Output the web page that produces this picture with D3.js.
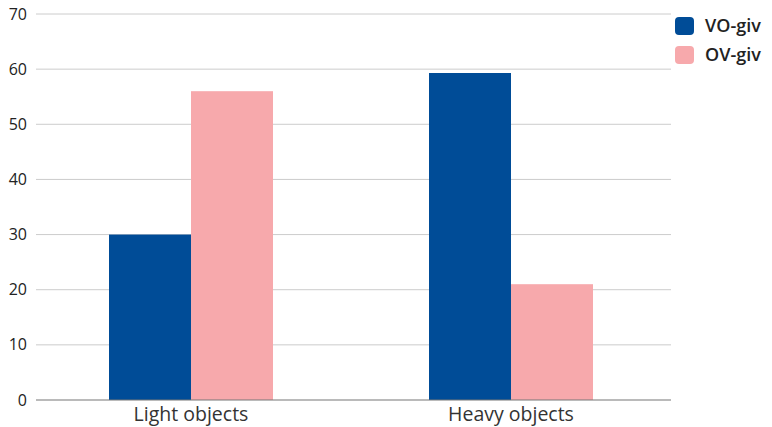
<!DOCTYPE html>
<html>
<head>
<meta charset="utf-8">
<script src="https://cdn.jsdelivr.net/npm/d3@7/dist/d3.min.js"></script>
<style>
  html, body { margin: 0; padding: 0; background: #fff; }
  svg { display: block; }
  text { font-family: "Open Sans", "Noto Sans", sans-serif; }
</style>
</head>
<body>
<svg id="chart" width="772" height="427"></svg>
<script>
// Grouped bar chart: share of responses per object type
const categories = ["Light objects", "Heavy objects"];
const seriesNames = ["VO-giv", "OV-giv"];
const voValues = [30, 59.3];
const ovValues = [56, 21];
const yTicks = [0, 10, 20, 30, 40, 50, 60, 70];
const colors = ["#004c97", "#f7a9ac"];

const svg = d3.select("#chart");
const gridLeft = 36, plotRight = 671, plotTop = 14, plotBottom = 400;

const x = d3.scaleBand().domain(categories).range([31, plotRight]).paddingInner(0.4875).paddingOuter(0.24375);
const xs = d3.scaleBand().domain(seriesNames).range([0, x.bandwidth()]);
const y = d3.scaleLinear().domain([0, 70]).range([plotBottom, plotTop]);

// horizontal gridlines
svg.append("g").selectAll("line").data(yTicks.filter(d => d > 0)).join("line")
  .attr("x1", gridLeft).attr("x2", plotRight)
  .attr("y1", d => y(d)).attr("y2", d => y(d))
  .attr("stroke", "#cccccc").attr("stroke-width", 1);

// y tick labels
svg.append("g").selectAll("text").data(yTicks).join("text")
  .attr("x", 27).attr("y", d => y(d)).attr("dy", "0.35em")
  .attr("text-anchor", "end").attr("font-size", 16).attr("fill", "#222")
  .text(d => d);

// bars
const rows = categories.map((c, i) => ({ cat: c, vals: [voValues[i], ovValues[i]] }));
const groups = svg.append("g").selectAll("g").data(rows).join("g")
  .attr("transform", d => `translate(${x(d.cat)},0)`);
groups.selectAll("rect").data(d => d.vals.map((v, j) => ({ name: seriesNames[j], v, j }))).join("rect")
  .attr("x", d => xs(d.name)).attr("width", xs.bandwidth())
  .attr("y", d => y(d.v)).attr("height", d => y(0) - y(d.v))
  .attr("fill", d => colors[d.j]);

// baseline
svg.append("line").attr("x1", gridLeft).attr("x2", plotRight)
  .attr("y1", plotBottom).attr("y2", plotBottom).attr("stroke", "#777").attr("stroke-width", 1.2);

// category labels
svg.append("g").selectAll("text").data(categories).join("text")
  .attr("x", d => x(d) + x.bandwidth() / 2).attr("y", 421)
  .attr("text-anchor", "middle").attr("font-size", 19.5).attr("fill", "#333")
  .text(d => d);

// legend
const legend = svg.append("g").selectAll("g").data(seriesNames).join("g")
  .attr("transform", (d, i) => `translate(675,${17 + i * 29})`);
legend.append("rect").attr("width", 19).attr("height", 18).attr("rx", 4)
  .attr("fill", (d, i) => colors[i]);
legend.append("text").attr("x", 30).attr("y", 9).attr("dy", "0.35em")
  .attr("font-size", 18).attr("font-weight", 600).attr("fill", "#222")
  .text(d => d);
</script>
</body>
</html>
